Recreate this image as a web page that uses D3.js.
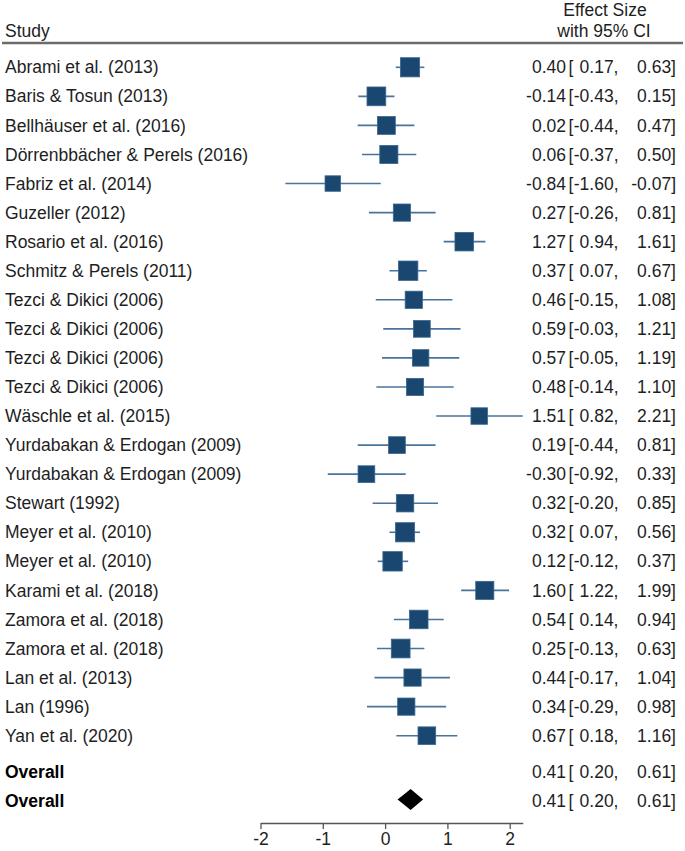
<!DOCTYPE html>
<html><head><meta charset="utf-8">
<script src="https://cdn.jsdelivr.net/npm/d3@7"></script>
<style>html,body{margin:0;padding:0;background:#fff;} text{font-family:"Liberation Sans",Arial,sans-serif;}</style>
</head><body>
<svg id="c" width="685" height="851"></svg>
<script>
const studies = ["Abrami et al. (2013)","Baris & Tosun (2013)","Bellhäuser et al. (2016)","Dörrenbbächer & Perels (2016)","Fabriz et al. (2014)","Guzeller (2012)","Rosario et al. (2016)","Schmitz & Perels (2011)","Tezci & Dikici (2006)","Tezci & Dikici (2006)","Tezci & Dikici (2006)","Tezci & Dikici (2006)","Wäschle et al. (2015)","Yurdabakan & Erdogan (2009)","Yurdabakan & Erdogan (2009)","Stewart (1992)","Meyer et al. (2010)","Meyer et al. (2010)","Karami et al. (2018)","Zamora et al. (2018)","Zamora et al. (2018)","Lan et al. (2013)","Lan (1996)","Yan et al. (2020)"];
const estimates = [0.40,-0.14,0.02,0.06,-0.84,0.27,1.27,0.37,0.46,0.59,0.57,0.48,1.51,0.19,-0.30,0.32,0.32,0.12,1.60,0.54,0.25,0.44,0.34,0.67];
const lower = [0.17,-0.43,-0.44,-0.37,-1.60,-0.26,0.94,0.07,-0.15,-0.03,-0.05,-0.14,0.82,-0.44,-0.92,-0.20,0.07,-0.12,1.22,0.14,-0.13,-0.17,-0.29,0.18];
const upper = [0.63,0.15,0.47,0.50,-0.07,0.81,1.61,0.67,1.08,1.21,1.19,1.10,2.21,0.81,0.33,0.85,0.56,0.37,1.99,0.94,0.63,1.04,0.98,1.16];
const weights = [4.6,4.4,4.0,4.1,3.0,3.7,4.3,4.7,3.7,3.5,3.4,3.7,3.4,3.5,3.5,3.8,4.6,4.7,4.1,4.3,4.4,3.7,3.7,3.9];
const overallLabels = ["Overall","Overall"];
const overall = {est:0.41, lo:0.20, hi:0.61};
const xTicks = [-2,-1,0,1,2];

const svg = d3.select("#c");
const n = studies.length;
const x = d3.scaleLinear().domain([-2, 2.21]).range([260.5, 522.8]);
const y = d3.scaleLinear().domain([0, n-1]).range([67.3, 735.7]);
const size = d3.scaleSqrt().domain([0, d3.max(weights)]).range([0, 19.4]);
const navy = "#1a476f";
const txt = "#1e1e1e";
const fs = "17.5px";

// header
svg.append("text").attr("x",5).attr("y",31).attr("dy","0.35em").attr("font-size",fs).attr("fill",txt).text("Study");
svg.append("text").attr("x",605).attr("y",10).attr("dy","0.35em").attr("text-anchor","middle").attr("font-size",fs).attr("fill",txt).text("Effect Size");
svg.append("text").attr("x",604).attr("y",31).attr("dy","0.35em").attr("text-anchor","middle").attr("font-size",fs).attr("fill",txt).text("with 95% CI");
svg.append("line").attr("x1",2).attr("x2",683).attr("y1",43).attr("y2",43).attr("stroke","#6b6b6b").attr("stroke-width",2.5);

const rows = studies.map((s,i)=>({s, est:estimates[i], lo:lower[i], hi:upper[i], w:weights[i], i}));
const g = svg.append("g");
const row = g.selectAll("g.row").data(rows).join("g").attr("class","row");
row.append("text").attr("x",5).attr("y",d=>y(d.i)).attr("dy","0.35em").attr("font-size",fs).attr("fill",txt).text(d=>d.s);
row.append("line").attr("x1",d=>x(d.lo)).attr("x2",d=>x(d.hi)).attr("y1",d=>y(d.i)).attr("y2",d=>y(d.i)).attr("stroke","#4a739a").attr("stroke-width",1.6);
row.append("rect").attr("x",d=>x(d.est)-size(d.w)/2).attr("y",d=>y(d.i)-size(d.w)/2).attr("width",d=>size(d.w)).attr("height",d=>size(d.w))
  .attr("fill",navy).attr("stroke","#3a6690").attr("stroke-width",0.8);

function valueText(sel, getY){
  const f = v=>v.toFixed(2);
  sel.append("text").attr("x",566).attr("y",getY).attr("dy","0.35em").attr("text-anchor","end").attr("font-size",fs).attr("fill",txt).text(e=>f(e.est));
  sel.append("text").attr("x",568.5).attr("y",getY).attr("dy","0.35em").attr("font-size",fs).attr("fill",txt).text("[");
  sel.append("text").attr("x",618.5).attr("y",getY).attr("dy","0.35em").attr("text-anchor","end").attr("font-size",fs).attr("fill",txt).text(e=>f(e.lo)+",");
  sel.append("text").attr("x",676).attr("y",getY).attr("dy","0.35em").attr("text-anchor","end").attr("font-size",fs).attr("fill",txt).text(e=>f(e.hi)+"]");
}
valueText(row, d=>y(d.i));

// overall rows
const ov = overallLabels.map((l,k)=>({l, est:overall.est, lo:overall.lo, hi:overall.hi, pos:n+0.25+k, diamond:k===1}));
const og = svg.append("g").selectAll("g").data(ov).join("g");
og.append("text").attr("x",5).attr("y",d=>y(d.pos)).attr("dy","0.35em").attr("font-size",fs).attr("font-weight","bold").attr("fill","#000").text(d=>d.l);
valueText(og, d=>y(d.pos));
og.filter(d=>d.diamond).append("path")
  .attr("d",d=>{const cy=y(d.pos)-1.5, h=10.5; return `M${x(d.lo)},${cy}L${x(d.est)},${cy-h}L${x(d.hi)},${cy}L${x(d.est)},${cy+h}Z`;})
  .attr("fill","#000");

// axis
const axis = d3.axisBottom(x).tickValues(xTicks).tickSize(6).tickSizeOuter(0).tickPadding(2).tickFormat(d=>String(d));
const ag = svg.append("g").attr("transform","translate(0,823)").call(axis);
ag.select(".domain").attr("stroke","#555").attr("stroke-width",1.3);
ag.selectAll(".tick line").attr("stroke","#555").attr("stroke-width",1.3);
ag.selectAll(".tick text").attr("font-size",fs).attr("fill",txt).attr("font-family","Liberation Sans, Arial, sans-serif").attr("dy","0.78em");
</script>
</body></html>
